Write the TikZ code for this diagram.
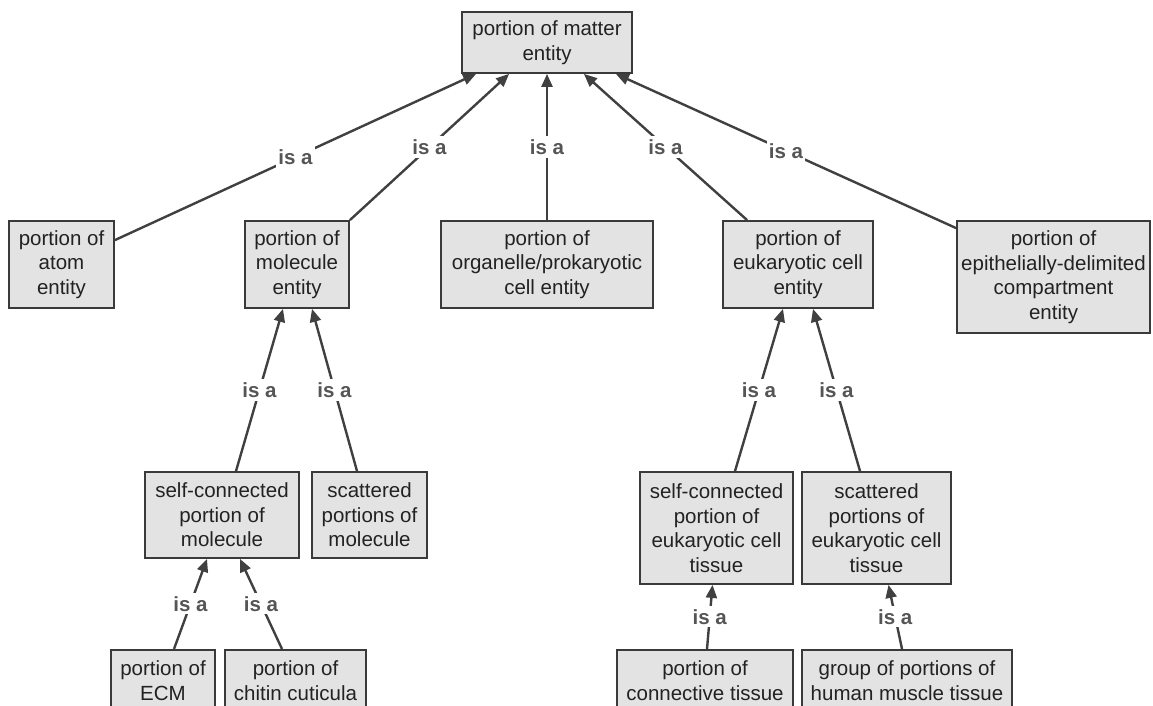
\documentclass[tikz,border=0pt]{standalone}
\usepackage{fontspec}
\setmainfont{Liberation Sans}
\usetikzlibrary{arrows.meta,calc}
\definecolor{boxfill}{HTML}{E3E3E3}
\definecolor{boxline}{HTML}{3A3A3A}
\definecolor{edgeline}{HTML}{404040}
\definecolor{labelgray}{HTML}{555555}
\definecolor{textdark}{HTML}{222222}
\begin{document}
\begin{tikzpicture}[x=1pt,y=-1pt,
  classbox/.style={draw=boxline, fill=boxfill, line width=1.8pt, inner sep=0pt,
    align=center, text=textdark, font=\fontsize{20.5}{24.5}\selectfont},
  cutbox/.style={classbox, anchor=north, inner ysep=11pt, text depth=30pt},
  isa/.style={draw=edgeline, line width=2.4pt, -{Triangle[length=13pt,width=11pt]}},
  isalabel/.style={fill=white, inner xsep=2pt, inner ysep=3pt, text=labelgray,
    font=\fontsize{20.5}{24}\selectfont\bfseries}]
\clip (0,0) rectangle (1153,706);
\fill[white] (0,0) rectangle (1153,706);

% upper classes
\node[classbox, minimum width=170, minimum height=61] (matter) at (547,42.5) {portion of matter\\entity};
\node[classbox, minimum width=105, minimum height=87] (atom) at (61.5,264.5) {portion of\\atom\\entity};
\node[classbox, minimum width=104, minimum height=87] (molecule) at (297,264.5) {portion of\\molecule\\entity};
\node[classbox, minimum width=212, minimum height=87] (organelle) at (547,264.5) {portion of\\organelle/prokaryotic\\cell entity};
\node[classbox, minimum width=150, minimum height=87] (eukcell) at (798,264.5) {portion of\\eukaryotic cell\\entity};
\node[classbox, minimum width=193, minimum height=112] (epith) at (1053.5,277) {portion of\\epithelially-delimited\\compartment\\entity};

% molecule branch
\node[classbox, minimum width=154, minimum height=86] (selfmol) at (222,515) {self-connected\\portion of\\molecule};
\node[classbox, minimum width=115, minimum height=86] (scatmol) at (369.5,515) {scattered\\portions of\\molecule};
\node[cutbox, minimum width=104] (ecm) at (163,649) {portion of\\ECM};
\node[cutbox, minimum width=141] (chitin) at (295.5,649) {portion of\\chitin cuticula};

% eukaryotic cell branch
\node[classbox, minimum width=153, minimum height=112] (selfeuk) at (716.5,528) {self-connected\\portion of\\eukaryotic cell\\tissue};
\node[classbox, minimum width=149, minimum height=112] (scateuk) at (876.5,528) {scattered\\portions of\\eukaryotic cell\\tissue};
\node[cutbox, minimum width=176] (connective) at (705,649) {portion of\\connective tissue};
\node[cutbox, minimum width=210] (muscle) at (907,649) {group of portions of\\human muscle tissue};

% is-a relations
\draw[isa] ($(atom.north east)+(0,20)$) -- node[isalabel]{is a} ($(matter.south west)+(15,0)$);
\draw[isa] (molecule.north east) -- node[isalabel]{is a} ($(matter.south west)+(48,0)$);
\draw[isa] (organelle.north) -- node[isalabel]{is a} (matter.south);
\draw[isa] ($(eukcell.north west)+(25,0)$) -- node[isalabel]{is a} ($(matter.south east)+(-49,0)$);
\draw[isa] ($(epith.north west)+(0,8)$) -- node[isalabel]{is a} ($(matter.south east)+(-17,0)$);

\draw[isa] ($(selfmol.north)+(14,0)$) -- node[isalabel]{is a} ($(molecule.south)+(-14,0)$);
\draw[isa] ($(scatmol.north)+(-12.5,0)$) -- node[isalabel]{is a} ($(molecule.south)+(15,0)$);
\draw[isa] ($(ecm.north)+(11,0)$) -- node[isalabel]{is a} ($(selfmol.south)+(-15,0)$);
\draw[isa] ($(chitin.north)+(-13.5,0)$) -- node[isalabel]{is a} ($(selfmol.south)+(18,0)$);

\draw[isa] ($(selfeuk.north)+(18.5,0)$) -- node[isalabel]{is a} ($(eukcell.south)+(-15,0)$);
\draw[isa] ($(scateuk.north)+(-16.5,0)$) -- node[isalabel]{is a} ($(eukcell.south)+(15,0)$);
\draw[isa] ($(connective.north)+(2,0)$) -- node[isalabel]{is a} ($(selfeuk.south)+(-4,0)$);
\draw[isa] ($(muscle.north)+(-5,0)$) -- node[isalabel]{is a} ($(scateuk.south)+(12,0)$);
\end{tikzpicture}
\end{document}
